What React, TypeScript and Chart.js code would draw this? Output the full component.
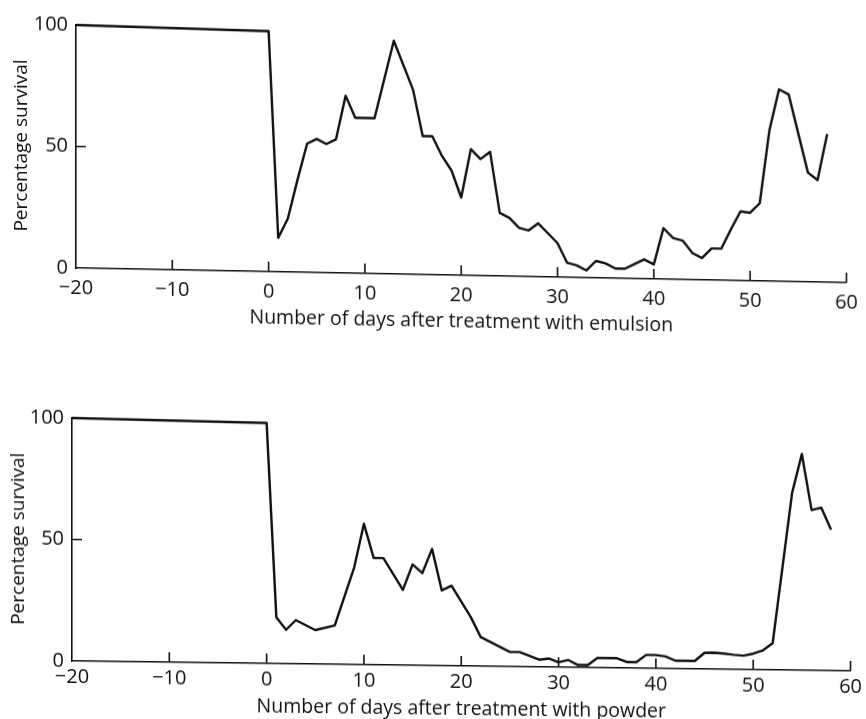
import { useEffect, useRef } from "react";
import { Chart, registerables } from "chart.js";

Chart.register(...registerables);

// Axis ticks shared by both panels
const xTickValues = [-20, -10, 0, 10, 20, 30, 40, 50, 60];
const xTickLabels = ["\u221220", "\u221210", "0", "10", "20", "30", "40", "50", "60"];
const yTickValues = [0, 50, 100];
const yTickLabels = ["0", "50", "100"];
const yMarkedTicks = [50];

// Emulsion treatment: day vs percentage survival
const emulsionDays = [
  -20, 0, 1, 2, 3, 4, 5, 6, 7, 8, 9, 10, 11, 13, 15, 16, 17, 18, 19, 20, 21, 22, 23, 24, 25, 26, 27, 28,
  29, 30, 31, 32, 33, 34, 35, 36, 37, 38, 39, 40, 41, 42, 43, 44, 45, 46, 47, 48, 49, 50, 51, 52, 53, 54,
  56, 57, 58,
];
const emulsionSurvival = [
  100, 99, 14, 22, 38, 53, 55, 53, 55, 73, 64, 64, 64, 96, 76, 57, 57, 49, 43, 32, 52, 48, 51, 26, 24, 20,
  19, 22, 18, 14, 6, 5, 3, 7, 6, 4, 4, 6, 8, 6, 21, 17, 16, 11, 9, 13, 13, 21, 28.5, 28, 32, 62, 79, 77,
  45, 42, 61,
];

// Powder treatment: day vs percentage survival
const powderDays = [
  -20, 0, 1, 2, 3, 5, 7, 9, 10, 11, 12, 14, 15, 16, 17, 18, 19, 21, 22, 25, 26, 28, 29, 30, 31, 32, 33,
  34, 35, 36, 37, 38, 39, 40, 41, 42, 43, 44, 45, 46, 47, 48, 49, 50, 51, 52, 54, 55, 56, 57, 58,
];
const powderSurvival = [
  100, 99, 19, 14, 18, 14, 16, 40, 58, 44, 44, 31, 41.5, 38, 48, 31, 33, 20, 12, 6, 6, 3, 3.5, 2, 3, 1, 1,
  4, 4, 4, 2.5, 2.5, 5.5, 5.5, 5, 3.3, 3.3, 3.3, 6.7, 6.8, 6.5, 6, 5.7, 6.6, 8, 11, 73, 89, 66, 67, 58,
];

const INK = "#111";
const FONT = "'Open Sans', 'Lato', sans-serif";

type Area = { left: number; right: number; top: number; bottom: number };

type PanelProps = {
  days: number[];
  values: number[];
  caption: string;
  width: number;
  height: number;
  top: number;
  area: Area;
  skewDeg: number;
  tickPad: number;
  captionPad: number;
  yTitlePad: number;
};

// Short tick marks pointing into the plot from each axis line
const inwardTicks = {
  id: "inwardTicks",
  afterDraw(chart: any) {
    const { ctx, chartArea, scales } = chart;
    const xs = scales.x;
    const ys = scales.y;
    ctx.save();
    ctx.strokeStyle = INK;
    ctx.lineWidth = 1.6;
    ctx.beginPath();
    for (const v of xTickValues) {
      if (v === xs.min) continue;
      const px = xs.getPixelForValue(v);
      ctx.moveTo(px, chartArea.bottom);
      ctx.lineTo(px, chartArea.bottom - 10);
    }
    for (const v of yMarkedTicks) {
      const py = ys.getPixelForValue(v);
      ctx.moveTo(chartArea.left, py);
      ctx.lineTo(chartArea.left + 10, py);
    }
    ctx.stroke();
    ctx.restore();
  },
};

function SurvivalPanel(p: PanelProps) {
  const ref = useRef<HTMLCanvasElement | null>(null);

  useEffect(() => {
    if (!ref.current) return;
    const points = p.days.map((d, i) => ({ x: d, y: p.values[i] }));
    const tickFont = { family: FONT, size: 20 };
    const titleFont = { family: FONT, size: 19.5 };
    const yTitleFont = { family: FONT, size: 19 };
    const chart = new Chart(ref.current, {
      type: "line",
      data: {
        datasets: [
          {
            data: points,
            borderColor: INK,
            borderWidth: 2.4,
            pointRadius: 0,
            tension: 0,
            fill: false,
            clip: false as any,
            borderJoinStyle: "round",
          },
        ],
      },
      options: {
        animation: false,
        responsive: false,
        maintainAspectRatio: false,
        events: [],
        layout: {
          padding: { top: p.area.top, right: p.width - p.area.right, left: 0, bottom: 0 },
        },
        plugins: { legend: { display: false }, tooltip: { enabled: false } },
        scales: {
          x: {
            type: "linear",
            min: -20,
            max: 60,
            afterBuildTicks: (s: any) => {
              s.ticks = xTickValues.map((v) => ({ value: v }));
            },
            afterFit: (s: any) => {
              s.height = p.height - p.area.bottom;
            },
            ticks: {
              callback: (_v: any, i: number) => xTickLabels[i],
              font: tickFont,
              color: INK,
              padding: p.tickPad,
              maxRotation: 0,
              autoSkip: false,
            },
            grid: { display: false, drawTicks: false },
            border: { display: true, color: INK, width: 1.6 },
            title: {
              display: true,
              text: p.caption,
              font: titleFont,
              color: INK,
              padding: { top: 0, bottom: p.captionPad },
            },
          },
          y: {
            type: "linear",
            min: 0,
            max: 100,
            afterBuildTicks: (s: any) => {
              s.ticks = yTickValues.map((v) => ({ value: v }));
            },
            afterFit: (s: any) => {
              s.width = p.area.left;
            },
            ticks: {
              callback: (_v: any, i: number) => yTickLabels[i],
              font: tickFont,
              color: INK,
              padding: 8,
            },
            grid: { display: false, drawTicks: false },
            border: { display: true, color: INK, width: 1.6 },
            title: {
              display: true,
              text: "Percentage survival",
              font: yTitleFont,
              color: INK,
              padding: { top: p.yTitlePad, bottom: 0 },
            },
          },
        },
      },
      plugins: [inwardTicks],
    });
    return () => chart.destroy();
  }, []);

  return (
    <canvas
      ref={ref}
      width={p.width}
      height={p.height}
      style={{
        position: "absolute",
        left: 0,
        top: p.top,
        width: p.width,
        height: p.height,
        transform: `skewY(${p.skewDeg}deg)`,
        transformOrigin: `${p.area.left}px 0px`,
      }}
    />
  );
}

export default function App() {
  return (
    <div
      style={{
        position: "absolute",
        left: 0,
        top: 0,
        width: 866,
        height: 719,
        background: "#fff",
        overflow: "hidden",
      }}
    >
      <SurvivalPanel
        days={emulsionDays}
        values={emulsionSurvival}
        caption="Number of days after treatment with emulsion"
        width={866}
        height={340}
        top={0}
        area={{ left: 76, right: 855, top: 25, bottom: 268 }}
        skewDeg={1.09}
        tickPad={8}
        captionPad={14}
        yTitlePad={10}
      />
      <SurvivalPanel
        days={powderDays}
        values={powderSurvival}
        caption="Number of days after treatment with powder"
        width={866}
        height={379}
        top={340}
        area={{ left: 72, right: 851, top: 78, bottom: 321 }}
        skewDeg={0.73}
        tickPad={4}
        captionPad={3}
        yTitlePad={7}
      />
    </div>
  );
}
